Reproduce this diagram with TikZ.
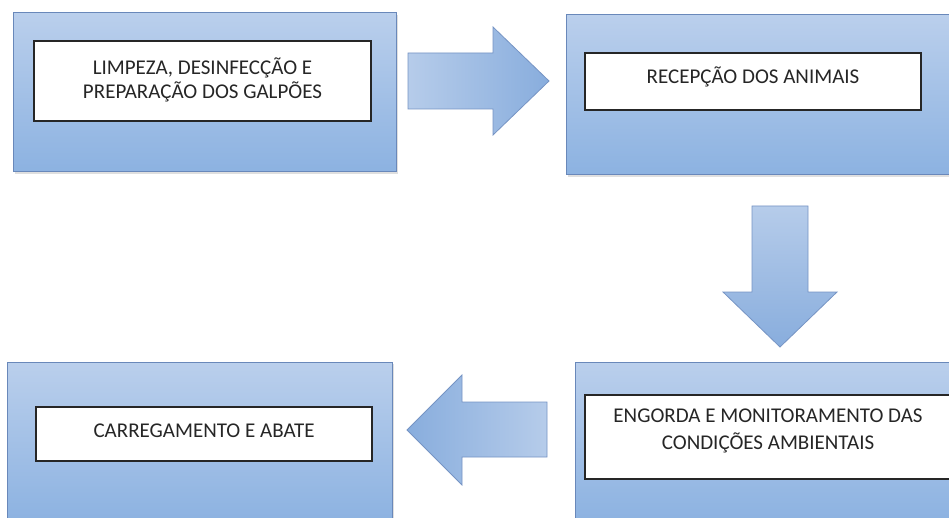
\documentclass[tikz,border=0pt]{standalone}
\usepackage{fontspec}
\setmainfont{Carlito}
\usepackage{tikz}
\usetikzlibrary{shadows}

\definecolor{boxtop}{RGB}{186,207,236}
\definecolor{boxbot}{RGB}{140,178,225}
\definecolor{boxline}{RGB}{105,136,186}
\definecolor{arrtail}{RGB}{182,204,234}
\definecolor{arrhead}{RGB}{136,173,221}
\definecolor{arrline}{RGB}{118,148,196}
\definecolor{txt}{RGB}{38,38,38}

\tikzset{
  stagebox/.style={draw=boxline, line width=1pt, top color=boxtop, bottom color=boxbot,
                   drop shadow={shadow xshift=1.5pt, shadow yshift=-2pt, opacity=0.25, fill=black!50},
                   inner sep=0pt},
  labelbox/.style={draw=black!85, line width=1.2pt, fill=white, inner sep=0pt},
  labeltext/.style={text=txt, align=center, inner sep=0pt, font=\fontsize{21}{24}\selectfont},
  blockarrow/.style={draw=arrline, line width=0.8pt, line join=miter}
}

\begin{document}
\begin{tikzpicture}[x=1pt, y=-1pt]
        \useasboundingbox (0,0) rectangle (949,518);
        \clip (0,0) rectangle (949,518);
        \fill[white] (0,0) rectangle (949,518);
        % outer panels
        \node[stagebox, minimum width=383pt, minimum height=159pt] (panelA) at (204.5,92.5) {};   %top left
        \node[stagebox, minimum width=394pt, minimum height=160pt] (panelB) at (763,95)     {};   %top right
        \node[stagebox, minimum width=385pt, minimum height=160pt] (panelD) at (199.5,442)  {};   %bottom left
        \node[stagebox, minimum width=385pt, minimum height=160pt] (panelC) at (767.5,442)  {};   %bottom right
        % white label frames
        \node[labelbox, minimum width=337pt, minimum height=80pt] (limpeza)  at (202.5,81) {};
        \node[labelbox, minimum width=336pt, minimum height=57pt] (recepcao) at (753,81.5) {};
        \node[labelbox, minimum width=366pt, minimum height=84pt] (engorda)  at (768,437)  {};
        \node[labelbox, minimum width=336pt, minimum height=54pt] (abate)    at (204,434)  {};
        % texts
        \node[labeltext] (limpezaT)  at (202.5,80)                {LIMPEZA, DESINFECÇÃO E\\PREPARAÇÃO DOS GALPÕES};
        \node[labeltext, anchor=base] (recepcaoT) at (753,84)     {RECEPÇÃO DOS ANIMAIS};
        \node[labeltext] (engordaT)  at (768,431)                 {ENGORDA E MONITORAMENTO DAS\\[3pt]CONDIÇÕES AMBIENTAIS};
        \node[labeltext, anchor=base] (abateT)    at (204,437)    {CARREGAMENTO E ABATE};
        % block arrows
        \draw[blockarrow, left color=arrtail, right color=arrhead]
              (408,53) -- (493,53) -- (493,27) -- (549,81) -- (493,135) -- (493,109) -- (408,109) -- cycle;   %A->B
        \draw[blockarrow, top color=arrtail, bottom color=arrhead]
              (752,206) -- (808,206) -- (808,292) -- (837,292) -- (780,347) -- (723,292) -- (752,292) -- cycle; %B->C
        \draw[blockarrow, left color=arrhead, right color=arrtail]
              (547,402) -- (462,402) -- (462,375) -- (407,430) -- (462,485) -- (462,457) -- (547,457) -- cycle; %C->D
\end{tikzpicture}
\end{document}
